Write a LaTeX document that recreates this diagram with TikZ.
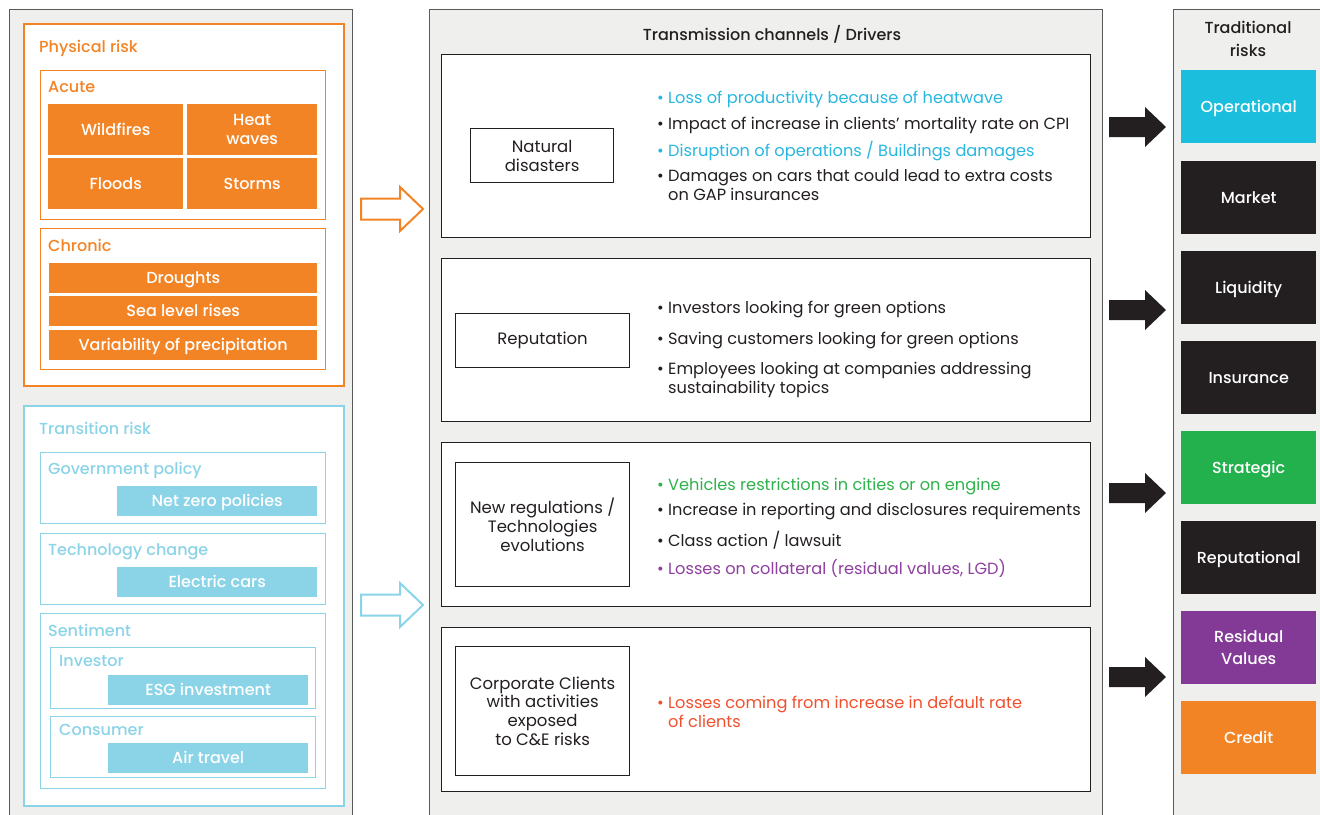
\documentclass[tikz,border=0pt]{standalone}
\usepackage{fontspec}
\setmainfont{Poppins}
\newfontfamily\pmed{Poppins Medium}
\definecolor{orng}{HTML}{F38426}
\definecolor{lblue}{HTML}{8BD4E8}
\definecolor{cyanop}{HTML}{1CBEDD}
\definecolor{cyantxt}{HTML}{27B7E0}
\definecolor{blk}{HTML}{231F20}
\definecolor{grn}{HTML}{22B14C}
\definecolor{grntxt}{HTML}{2DB34A}
\definecolor{purp}{HTML}{833A96}
\definecolor{purptxt}{HTML}{8E3FA0}
\definecolor{redtxt}{HTML}{F1502F}
\definecolor{panelbg}{HTML}{EFEFED}
\definecolor{panelline}{HTML}{5A5A5C}
\newcommand\myfs[2]{\fontsize{#1}{#2}\selectfont}
\newcommand\bul{\makebox[11pt][l]{\textbullet}}
\tikzset{
  panel/.style={draw=panelline, fill=panelbg, line width=1.2, anchor=north west, inner sep=0},
  obig/.style={draw=orng, line width=2.2, fill=white, anchor=north west, inner sep=0},
  osub/.style={draw=orng, line width=1, fill=white, anchor=north west, inner sep=0},
  bbig/.style={draw=lblue, line width=2.2, fill=white, anchor=north west, inner sep=0},
  bsub/.style={draw=lblue, line width=1, fill=white, anchor=north west, inner sep=0},
  ofill/.style={fill=orng, text=white, anchor=north west, inner sep=0, align=center, font=\pmed\myfs{16}{19}},
  bfill/.style={fill=lblue, text=white, anchor=north west, inner sep=0, align=center, font=\pmed\myfs{16}{19}},
  oneline/.style={text height=12, text depth=1},
  olbl/.style={text=orng, anchor=west, inner sep=0, text height=12, text depth=4, font=\pmed\myfs{16}{19}},
  blbl/.style={text=lblue, anchor=west, inner sep=0, text height=12, text depth=4, font=\pmed\myfs{16}{19}},
  chan/.style={draw=blk, line width=1.2, fill=white, anchor=north west, inner sep=0},
  drv/.style={draw=blk, line width=1.2, fill=white, anchor=north west, inner sep=0, align=center, text=blk, font=\myfs{16.5}{18.8}},
  bl/.style={anchor=base west, inner sep=0, align=left, text=blk, font=\myfs{16.2}{19}},
  risk/.style={anchor=north west, inner sep=0, minimum width=135, minimum height=73, text=white, align=center, font=\pmed\myfs{16}{22}},
  outarrow/.pic={\draw[line width=2, fill=white, pic actions] (0,-10.5) -- (39,-10.5) -- (39,-22) -- (62,0) -- (39,22) -- (39,10.5) -- (0,10.5) -- cycle;},
  blkarrow/.pic={\fill[blk] (0,-10) -- (36,-10) -- (36,-20) -- (57,0) -- (36,20) -- (36,10) -- (0,10) -- cycle;}
}
\begin{document}
\begin{tikzpicture}[x=1pt,y=-1pt]
\useasboundingbox (0,0) rectangle (1320,814);
\clip (0,0) rectangle (1320,814);
\fill[white] (0,0) rectangle (1320,814);

% panels
\node[panel, minimum width=343, minimum height=840] (leftpanel) at (9,9) {};
\node[panel, minimum width=673, minimum height=840] (midpanel) at (429,9) {};
\node[panel, minimum width=170, minimum height=840] (rightpanel) at (1173,9) {};

% ---------- Physical risk ----------
\node[obig, minimum width=320, minimum height=362] (phys) at (23,23) {};
\node[olbl] (tphys) at (39,48) {Physical risk};
\node[osub, minimum width=285, minimum height=149] (acute) at (40,70) {};
\node[olbl] (tacute) at (48,88) {Acute};
\node[ofill, oneline, minimum width=135, minimum height=51] (wild) at (48,104) {Wildfires};
\node[ofill, minimum width=130, minimum height=51] (heat) at (187,104) {Heat\\waves};
\node[ofill, oneline, minimum width=135, minimum height=51] (flood) at (48,158) {Floods};
\node[ofill, oneline, minimum width=130, minimum height=51] (storm) at (187,158) {Storms};
\node[osub, minimum width=285, minimum height=141] (chronic) at (40,228) {};
\node[olbl] (tchronic) at (48,247) {Chronic};
\node[ofill, oneline, minimum width=268, minimum height=30] (drought) at (49,263) {Droughts};
\node[ofill, oneline, minimum width=268, minimum height=30] (sea) at (49,296) {Sea level rises};
\node[ofill, oneline, minimum width=268, minimum height=30] (var) at (49,330) {Variability of precipitation};

% ---------- Transition risk ----------
\node[bbig, minimum width=320, minimum height=400] (trans) at (23,405) {};
\node[blbl] (ttrans) at (39,430) {Transition risk};
\node[bsub, minimum width=285, minimum height=71] (gov) at (40,452) {};
\node[blbl] (tgov) at (48,470) {Government policy};
\node[bfill, oneline, minimum width=200, minimum height=30] (netzero) at (117,486) {Net zero policies};
\node[bsub, minimum width=285, minimum height=71] (tech) at (40,533) {};
\node[blbl] (ttech) at (48,551) {Technology change};
\node[bfill, oneline, minimum width=200, minimum height=30] (ecars) at (117,567) {Electric cars};
\node[bsub, minimum width=285, minimum height=175] (sent) at (40,613) {};
\node[blbl] (tsent) at (48,632) {Sentiment};
\node[bsub, minimum width=265, minimum height=61] (inv) at (50,647) {};
\node[blbl] (tinv) at (59,662) {Investor};
\node[bfill, oneline, minimum width=200, minimum height=30] (esg) at (108,675) {ESG investment};
\node[bsub, minimum width=265, minimum height=61] (cons) at (50,716) {};
\node[blbl] (tcons) at (59,731) {Consumer};
\node[bfill, oneline, minimum width=200, minimum height=30] (air) at (108,743) {Air travel};

% outline arrows
\pic[draw=orng] at (361,209) {outarrow};
\pic[draw=lblue] at (361,605) {outarrow};

% ---------- Transmission channels ----------
\node[text=blk, inner sep=0, font=\pmed\myfs{16}{18}] (ttitle) at (772,34) {Transmission channels / Drivers};

\node[chan, minimum width=649, minimum height=183] (c1) at (441,54) {};
\node[drv, minimum width=143, minimum height=54] (natural) at (470,128) {Natural\\disasters};
\node[bl, text=cyantxt] (b11) at (657,103) {\bul Loss of productivity because of heatwave};
\node[bl] (b12) at (657,129) {\bul Impact of increase in clients' mortality rate on CPI};
\node[bl, text=cyantxt] (b13) at (657,156) {\bul Disruption of operations / Buildings damages};
\node[bl] (b14) at (657,200) {\bul Damages on cars that could lead to extra costs\\\hspace*{11pt}on GAP insurances};

\node[chan, minimum width=649, minimum height=163] (c2) at (441,258) {};
\node[drv, minimum width=174, minimum height=54] (reput) at (455,313) {Reputation};
\node[bl] (b21) at (657,313) {\bul Investors looking for green options};
\node[bl] (b22) at (657,344) {\bul Saving customers looking for green options};
\node[bl] (b23) at (657,393) {\bul Employees looking at companies addressing\\\hspace*{11pt}sustainability topics};

\node[chan, minimum width=649, minimum height=164] (c3) at (441,442) {};
\node[drv, minimum width=174, minimum height=124] (newreg) at (455,462) {New regulations /\\Technologies\\evolutions};
\node[bl, text=grntxt] (b31) at (657,490) {\bul Vehicles restrictions in cities or on engine};
\node[bl] (b32) at (657,515) {\bul Increase in reporting and disclosures requirements};
\node[bl] (b33) at (657,546) {\bul Class action / lawsuit};
\node[bl, text=purptxt] (b34) at (657,574) {\bul Losses on collateral (residual values, LGD)};

\node[chan, minimum width=649, minimum height=164] (c4) at (441,627) {};
\node[drv, minimum width=174, minimum height=129] (corp) at (455,646) {Corporate Clients\\with activities\\exposed\\to C\&E risks};
\node[bl, text=redtxt] (b41) at (657,727) {\bul Losses coming from increase in default rate\\\hspace*{11pt}of clients};

% black arrows
\pic at (1109,127) {blkarrow};
\pic at (1109,310) {blkarrow};
\pic at (1109,493) {blkarrow};
\pic at (1109,677) {blkarrow};

% ---------- Traditional risks ----------
\node[text=blk, inner sep=0, align=center, font=\pmed\myfs{16}{23}] (ttrad) at (1248,39) {Traditional\\risks};
\node[risk, oneline, fill=cyanop] (r1) at (1181,70) {Operational};
\node[risk, oneline, fill=blk] (r2) at (1181,161) {Market};
\node[risk, oneline, fill=blk] (r3) at (1181,251) {Liquidity};
\node[risk, oneline, fill=blk] (r4) at (1181,341) {Insurance};
\node[risk, oneline, fill=grn] (r5) at (1181,431) {Strategic};
\node[risk, oneline, fill=blk] (r6) at (1181,521) {Reputational};
\node[risk, fill=purp] (r7) at (1181,611) {Residual\\Values};
\node[risk, oneline, fill=orng] (r8) at (1181,701) {Credit};
\end{tikzpicture}
\end{document}
